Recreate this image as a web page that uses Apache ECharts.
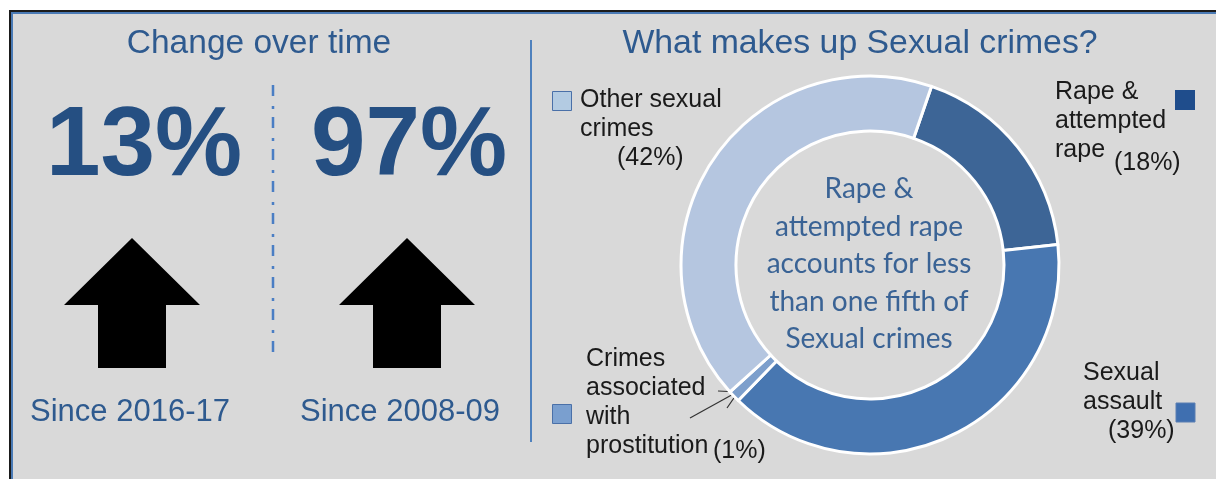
<!DOCTYPE html>
<html>
<head>
<meta charset="utf-8">
<script src="https://cdn.jsdelivr.net/npm/echarts@6/dist/echarts.min.js"></script>
<style>
  html, body { margin: 0; padding: 0; background: #ffffff; }
  #chart { width: 1216px; height: 479px; }
</style>
</head>
<body>
<div id="chart"></div>
<script>
// Change-over-time figures
const changeValues = ['13%', '97%'];
const changePeriods = ['Since 2016-17', 'Since 2008-09'];

// Composition of sexual crimes (percent), clockwise from the top
const categories = ['Rape & attempted rape', 'Sexual assault', 'Crimes associated with prostitution', 'Other sexual crimes'];
const shares = [18, 39, 1, 42];
const sliceColors = ['#3d6596', '#4877b1', '#7d9fcc', '#b5c6e0'];

const chart = echarts.init(document.getElementById('chart'), null, { renderer: 'canvas' });

const LABEL_FONT = '"Liberation Sans", Arial, sans-serif';
const pct = i => '(' + shares[i] + '%)';

// Text block helper for the donut call-outs
function label(x, y, text, extra) {
  return Object.assign({
    type: 'text', x: x, y: y,
    style: { text: text, fill: '#1a1a1a', font: '25px ' + LABEL_FONT, lineHeight: 29, textVerticalAlign: 'top' }
  }, extra || {});
}

function upArrow(cx) {
  return {
    type: 'polygon',
    shape: { points: [[cx, 238], [cx + 68, 305], [cx + 34, 305], [cx + 34, 368], [cx - 34, 368], [cx - 34, 305], [cx - 68, 305]] },
    style: { fill: '#000000' }
  };
}

const graphics = [
  // frame
  { type: 'rect', z: -10, shape: { x: 10, y: 11, width: 1220, height: 480 }, style: { fill: 'none', stroke: '#1b1b1b', lineWidth: 2 } },
  { type: 'rect', z: -9, shape: { x: 12, y: 13, width: 1216, height: 476 }, style: { fill: '#d9d9d9', stroke: '#4a7ab5', lineWidth: 2 } },
  // separators
  { type: 'line', shape: { x1: 273, y1: 85, x2: 273, y2: 356 }, style: { stroke: '#4a7ec4', lineWidth: 2.5, lineDash: [11, 10, 3, 8] } },
  { type: 'line', shape: { x1: 531, y1: 40, x2: 531, y2: 442 }, style: { stroke: '#4f81bd', lineWidth: 2 } },
  // headings
  { type: 'text', x: 259, y: 44, style: { text: 'Change over time', fill: '#2e5a8f', font: '33.5px ' + LABEL_FONT, textAlign: 'center', textVerticalAlign: 'middle' } },
  { type: 'text', x: 860, y: 44, style: { text: 'What makes up Sexual crimes?', fill: '#2e5a8f', font: '33.8px ' + LABEL_FONT, textAlign: 'center', textVerticalAlign: 'middle' } },
  // big figures
  { type: 'text', x: 144, y: 148, style: { text: changeValues[0], fill: '#254f82', font: 'bold 98px ' + LABEL_FONT, textAlign: 'center', textVerticalAlign: 'middle' } },
  { type: 'text', x: 409, y: 148, style: { text: changeValues[1], fill: '#254f82', font: 'bold 98px ' + LABEL_FONT, textAlign: 'center', textVerticalAlign: 'middle' } },
  upArrow(132),
  upArrow(407),
  { type: 'text', x: 130, y: 412, style: { text: changePeriods[0], fill: '#2e5a8f', font: '31px ' + LABEL_FONT, textAlign: 'center', textVerticalAlign: 'middle' } },
  { type: 'text', x: 400, y: 412, style: { text: changePeriods[1], fill: '#2e5a8f', font: '31px ' + LABEL_FONT, textAlign: 'center', textVerticalAlign: 'middle' } },
  // donut centre message
  { type: 'text', x: 869, y: 264, style: { text: 'Rape &\nattempted rape\naccounts for less\nthan one fifth of\nSexual crimes', fill: '#3a6395', font: '28px Lato, "Open Sans", sans-serif', lineHeight: 37.5, textAlign: 'center', textVerticalAlign: 'middle' } },
  // call-outs
  label(580, 86, 'Other sexual\ncrimes'),
  label(617, 144, pct(3)),
  { type: 'rect', shape: { x: 552.5, y: 91.5, width: 19, height: 19 }, style: { fill: '#b3cbe2', stroke: '#4a70a8', lineWidth: 1 } },
  label(1055, 78, 'Rape &\nattempted\nrape'),
  label(1114, 149, pct(0)),
  { type: 'rect', shape: { x: 1175, y: 90, width: 20, height: 20 }, style: { fill: '#1f4d8c' } },
  label(1083, 359, 'Sexual\nassault'),
  label(1108, 417, pct(1)),
  { type: 'rect', shape: { x: 1176, y: 403, width: 19, height: 19 }, style: { fill: '#3f6fb0', stroke: '#5a7fb2', lineWidth: 1 } },
  label(586, 345, 'Crimes\nassociated\nwith\nprostitution'),
  label(713, 437, pct(2)),
  { type: 'rect', shape: { x: 552.5, y: 404.5, width: 19, height: 19 }, style: { fill: '#7a9fcf', stroke: '#4a70a8', lineWidth: 1 } },
  { type: 'line', shape: { x1: 690, y1: 418, x2: 737, y2: 392 }, style: { stroke: '#333333', lineWidth: 1.2 } },
  { type: 'polyline', shape: { points: [[718, 391], [738, 392], [727, 408]] }, style: { stroke: '#333333', lineWidth: 1.2, fill: 'none' } }
];

chart.setOption({
  animation: false,
  backgroundColor: '#ffffff',
  graphic: { elements: graphics },
  series: [{
    type: 'pie',
    center: [870, 265],
    radius: [134, 189],
    startAngle: 71,
    clockwise: true,
    silent: true,
    label: { show: false },
    labelLine: { show: false },
    itemStyle: { borderColor: '#ffffff', borderWidth: 3 },
    data: categories.map((name, i) => ({ name: name, value: shares[i], itemStyle: { color: sliceColors[i] } }))
  }]
});
</script>
</body>
</html>
